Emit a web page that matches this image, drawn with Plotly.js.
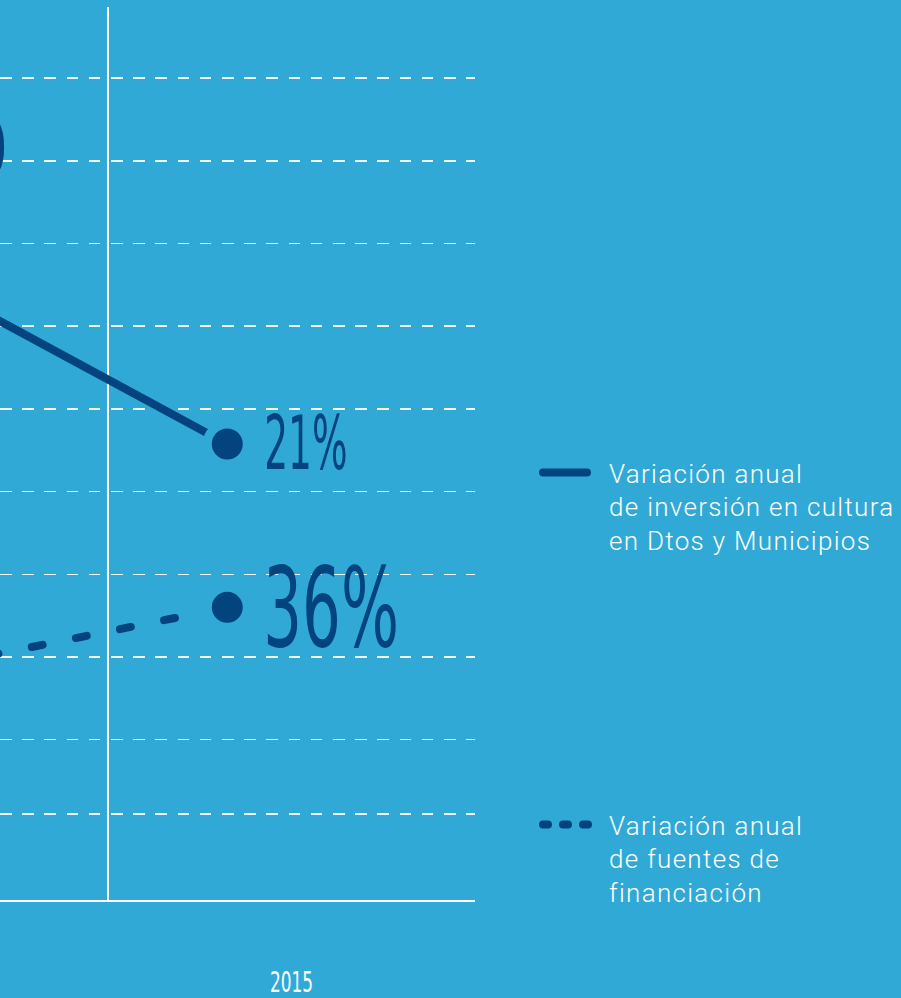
<!DOCTYPE html>
<html>
<head>
<meta charset="utf-8">
<script src="https://cdn.plot.ly/plotly-3.0.1.min.js"></script>
<style>
  html, body { margin: 0; padding: 0; background: #31a9d6; }
  #chart { width: 901px; height: 998px; }
  .scatterlayer .js-line, .legendlines path { stroke-linecap: round !important; }
  .scatterlayer path.js-line[style*="11px"] { stroke-dashoffset: 5px; }
  g.legend .legendlines path { stroke-dasharray: 44px,300px !important; }
  g.legend2 .legendlines path { stroke-dasharray: 5px,15px,5px,15px,5px,400px !important; }
</style>
</head>
<body>
<div id="chart"></div>
<script>
// ---- data ----
const years = [2014, 2015];
const inversionValues = [45, 21];          // variación anual de inversión (%)
const fuentesValues = [27, 36];            // variación anual de fuentes (%)
const inversionLabels = ["", "21%"];
const fuentesLabels = ["", "36%"];
const tickYears = [2015];
const tickLabels = ["2015"];
const gridLevels = [11, 20, 30, 40, 50, 60, 70, 80, 90, 100];
const columnEdges = [2013.5, 2014.5];
const seriesNames = [
  "Variación anual<br>de inversión en cultura<br>en Dtos y Municipios",
  "Variación anual<br>de fuentes de<br>financiación"
];
const partialLabel = "0";

// ---- styling ----
const BG = "#31a9d6";
const DARK = "#03447f";
const CONDENSED = "DejaVu Sans Condensed, Liberation Sans Narrow, sans-serif";
const pointShift = -0.175;   // points sit left of the column centre
const xs = years.map(y => y + pointShift);

const traces = [
  {
    x: xs, y: inversionValues, yaxis: "y2", type: "scatter", mode: "lines",
    name: seriesNames[0], legend: "legend",
    line: { color: DARK, width: 8 }, hoverinfo: "skip"
  },
  {
    x: xs, y: fuentesValues, yaxis: "y", type: "scatter", mode: "lines",
    name: seriesNames[1], legend: "legend2",
    line: { color: DARK, width: 8, dash: "11px,34px" }, hoverinfo: "skip"
  },
  {
    x: xs, y: inversionValues, yaxis: "y2", type: "scatter", mode: "markers+text",
    showlegend: false, text: inversionLabels, textposition: "middle right",
    textfont: { family: CONDENSED, size: 74, color: DARK },
    marker: { color: DARK, size: 40, line: { color: BG, width: 9 } }, hoverinfo: "skip"
  },
  {
    x: xs, y: fuentesValues, yaxis: "y", type: "scatter", mode: "markers+text",
    showlegend: false, text: fuentesLabels, textposition: "middle right",
    textfont: { family: CONDENSED, size: 110, color: DARK },
    marker: { color: DARK, size: 40, line: { color: BG, width: 9 } }, hoverinfo: "skip"
  }
];

const legendFont = { family: "Roboto, sans-serif", size: 26, color: "#ffffff", weight: 300 };

const layout = {
  width: 901, height: 998,
  margin: { l: 0, r: 426, t: 7, b: 98, pad: 0 },
  paper_bgcolor: BG, plot_bgcolor: BG,
  showlegend: true,
  xaxis: {
    range: [2014.5 - 108 / 367, 2015.5],
    tickmode: "array", tickvals: tickYears, ticktext: tickLabels,
    ticks: "", showgrid: false, zeroline: false,
    showline: true, linecolor: "#ffffff", linewidth: 2,
    tickfont: { family: CONDENSED, size: 29, color: "#ffffff" },
    ticklabelstandoff: 55,
    minor: { tickmode: "array", tickvals: columnEdges, showgrid: true, gridcolor: "#ffffff", gridwidth: 2, ticks: "" },
    fixedrange: true
  },
  yaxis: {
    range: [0.617, 108.59],
    tickmode: "array", tickvals: gridLevels, showticklabels: false, ticks: "",
    showgrid: true, gridcolor: "rgba(255,255,255,0.92)", gridwidth: 1.5, griddash: "11.5px,10.7px",
    zeroline: false, showline: false, fixedrange: true
  },
  yaxis2: {
    overlaying: "y", range: [0.617 - 34.75, 108.59 - 34.75],
    showgrid: false, zeroline: false, showticklabels: false, ticks: "", showline: false, fixedrange: true
  },
  legend: {
    xref: "container", yref: "container", x: 538 / 901, y: 1 - 449 / 998,
    xanchor: "left", yanchor: "top", bgcolor: "rgba(0,0,0,0)", borderwidth: 0,
    font: legendFont, itemwidth: 61, valign: "top"
  },
  legend2: {
    xref: "container", yref: "container", x: 538 / 901, y: 1 - 801 / 998,
    xanchor: "left", yanchor: "top", bgcolor: "rgba(0,0,0,0)", borderwidth: 0,
    font: legendFont, itemwidth: 61, valign: "top"
  },
  annotations: [
    {
      xref: "paper", yref: "paper", x: 0, y: (900 - 148.5) / 893,
      xanchor: "right", yanchor: "middle", xshift: 11,
      text: partialLabel, showarrow: false,
      font: { family: CONDENSED, size: 88, color: DARK }
    }
  ]
};

// condensed look for the big value labels: [translateX, translateY, scaleX] per label size
const labelFit = { "74": [11, 6, 0.563], "110": [10, 11, 0.617] };

Plotly.newPlot("chart", traces, layout, { displayModeBar: false, staticPlot: true }).then(function (gd) {
  gd.querySelectorAll(".scatterlayer .textpoint text").forEach(function (t) {
    const fs = String(parseFloat(t.style.fontSize || window.getComputedStyle(t).fontSize));
    const f = labelFit[fs];
    if (!f) return;
    t.style.transformBox = "fill-box";
    t.style.transformOrigin = "0% 50%";
    t.style.transform = "translate(" + f[0] + "px," + f[1] + "px) scaleX(" + f[2] + ")";
  });
  // legend: wider tracking like the reference, and no clipping of the wider text
  gd.querySelectorAll("g.legend, g.legend2").forEach(function (lg) {
    lg.querySelectorAll("[clip-path]").forEach(function (el) { el.removeAttribute("clip-path"); });
    lg.querySelectorAll("text").forEach(function (t) { t.style.letterSpacing = "1.3px"; });
  });
  gd.querySelectorAll(".xtick text").forEach(function (t) {
    const tr = t.getAttribute("transform") || "";
    t.setAttribute("transform", tr + " scale(0.65,1)");
  });
});
</script>
</body>
</html>
